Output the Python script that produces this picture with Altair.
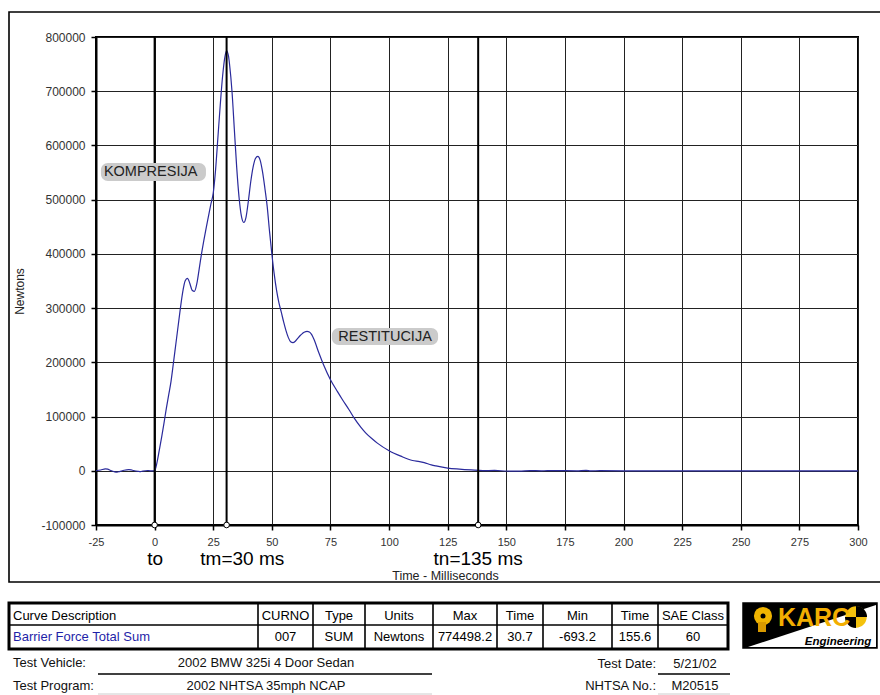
import altair as alt
import pandas as pd

# ---------------- data ----------------
time_ms = [-25, -23, -21, -20, -19, -17, -16, -15, -13, -11, -10, -9, -7, -6, -5, -3, -2, -1, 0,
           1, 2, 3, 4, 5, 6, 7, 8, 9, 10, 11, 12, 13, 14, 15, 16, 17, 18, 19, 20,
           21, 22, 23, 24, 25, 26, 27, 28, 29, 30, 30.7, 31.5, 32, 33, 34, 35, 36, 37, 38, 39, 40,
           41, 42, 43, 44, 45, 46, 47, 48, 49, 50, 51, 52, 53, 54, 55, 56, 57, 58, 59, 60,
           61, 62, 63, 64, 65, 66, 67, 68, 70, 72, 75, 78, 80, 83, 85, 88, 90, 93, 95, 100,
           105, 110, 113, 115, 118, 120, 125, 130, 135, 140, 145, 150, 155.6, 160, 165, 170,
           180, 184, 186, 190, 200, 250, 300]
force_n = [0, 1500, 3500, 3000, 1000, -2000, -2500, -1500, 1000, 2000, 1500, 500, -1000, -1500, -500, 500, 0, -300, 0,
           15000, 38000, 62000, 88000, 115000, 140000, 165000, 198000, 232000, 266000, 300000, 330000, 350000, 355000, 346000, 333000, 331000, 345000, 372000, 400000,
           425000, 448000, 470000, 492000, 512000, 555000, 615000, 675000, 728000, 764000, 774498, 765000, 748000, 700000, 630000, 560000, 505000, 470000, 458000, 468000, 498000,
           533000, 560000, 576000, 580000, 573000, 552000, 522000, 488000, 442000, 400000, 363000, 333000, 310000, 293000, 275000, 259000, 246000, 238000, 236500, 239000,
           244000, 249000, 253000, 256000, 257000, 256000, 251000, 242000, 218000, 196000, 168000, 146000, 132000, 112000, 98000, 80000, 70000, 58000, 51000, 37000,
           27000, 19000, 17000, 15000, 11000, 9000, 5000, 3000, 1500, 300, 600, -400, -693, 300, 0, 200,
           0, 900, 0, 100, 0, 0, 0]

marker_t = [0, 30.7, 138]
marker_labels = ["to", "tm=30 ms", "tn=135 ms"]
marker_label_t = [0.2, 37.4, 138]

phase_labels = ["KOMPRESIJA", "RESTITUCIJA"]
phase_t = [-1.7, 98.3]
phase_f = [551500, 247000]
phase_t1 = [-22.9, 75.6]
phase_t2 = [21.9, 120.9]
phase_f1 = [567600, 263300]
phase_f2 = [534400, 231900]

x_ticks = list(range(-25, 301, 25))
y_ticks = list(range(-100000, 800001, 100000))

table_headers = ["Curve Description", "CURNO", "Type", "Units", "Max", "Time", "Min", "Time", "SAE Class"]
table_values = ["Barrier Force Total Sum", "007", "SUM", "Newtons", "774498.2", "30.7", "-693.2", "155.6", "60"]
info_labels = ["Test Vehicle:", "Test Program:", "Test Date:", "NHTSA No.:"]
info_values = ["2002 BMW 325i 4 Door Sedan", "2002 NHTSA 35mph NCAP", "5/21/02", "M20515"]

# ---------------- layout ----------------
W, H = 762, 488
OX, OY = 96, 37
FONT = "Liberation Sans"

curve = pd.DataFrame({"t": time_ms, "f": force_n})
markers = pd.DataFrame({"t": marker_t, "f": [-100000] * 3})
mlabels = pd.DataFrame({"t": marker_label_t, "label": marker_labels})
phases = pd.DataFrame({"t": phase_t, "f": phase_f, "t1": phase_t1, "t2": phase_t2,
                       "f1": phase_f1, "f2": phase_f2, "label": phase_labels})

xscale = alt.Scale(domain=[-25, 300], nice=False, zero=False)
yscale = alt.Scale(domain=[-100000, 800000], nice=False, zero=False)
xaxis = alt.Axis(values=x_ticks, title="Time - Milliseconds", grid=True, gridColor="#222",
                 gridWidth=1, gridOpacity=1, domainColor="black", domainWidth=2,
                 tickColor="black", tickWidth=1.5, tickSize=5, labelPadding=6,
                 labelFont=FONT, labelFontSize=11, labelColor="#333",
                 labelExpr="'' + datum.value", titleFont=FONT, titleFontSize=12.5,
                 titleFontWeight="normal", titleColor="#222", titleX=349, titleY=54,
                 titleAlign="center", titleBaseline="alphabetic", labelFlush=False,
                 labelOverlap=False)
yaxis = alt.Axis(values=y_ticks, title="Newtons", grid=True, gridColor="#222",
                 gridWidth=1, gridOpacity=1, domainColor="black", domainWidth=2,
                 tickColor="black", tickWidth=1.5, tickSize=5, labelPadding=6,
                 labelFont=FONT, labelFontSize=12, labelColor="#333",
                 labelExpr="'' + datum.value", titleFont=FONT, titleFontSize=12,
                 titleFontWeight="normal", titleColor="#222", titleX=-77, titleY=254,
                 titleAngle=270, titleAlign="center", titleBaseline="middle",
                 labelFlush=False, labelOverlap=False)

X = alt.X("t:Q", scale=xscale, axis=xaxis)
Y = alt.Y("f:Q", scale=yscale, axis=yaxis)

line = alt.Chart(curve).mark_line(color="#2a2a9c", strokeWidth=1.2, interpolate="monotone").encode(x=X, y=Y)

vlines = alt.Chart(markers).mark_rule(color="black", strokeWidth=2).encode(
    x=X, y=alt.value(0), y2=alt.value(H))
vpoints = alt.Chart(markers).mark_point(shape="circle", filled=True, fill="white",
                                        stroke="black", strokeWidth=1, size=32, opacity=1).encode(x=X, y=Y)

mtext = alt.Chart(mlabels).mark_text(font=FONT, fontSize=19, color="black", align="center",
                                     baseline="alphabetic").encode(
    x=X, y=alt.value(528), text="label:N")

pboxes = alt.Chart(phases).mark_rect(color="#cbcbcb", cornerRadius=7).encode(
    x=alt.X("t1:Q", scale=xscale, axis=xaxis), x2="t2:Q",
    y=alt.Y("f1:Q", scale=yscale, axis=yaxis), y2="f2:Q")
ptext = alt.Chart(phases).mark_text(font=FONT, fontSize=14.5, color="#222", align="center",
                                    baseline="middle").encode(x=X, y=Y, text="label:N")

# ---------------- decorations (pixel positions) ----------------
def R(px):
    return px - OX

def C(py):
    return py - OY

PX = lambda f: alt.X(f, scale=None, axis=None)
PY = lambda f: alt.Y(f, scale=None, axis=None)

frame = pd.DataFrame({"x1": [R(9)], "x2": [R(890)], "y1": [C(12)], "y2": [C(582)]})
frame_l = alt.Chart(frame).mark_rect(fill=None, stroke="black", strokeWidth=1.6).encode(
    x=PX("x1:Q"), x2="x2:Q", y=PY("y1:Q"), y2="y2:Q")

cols = [9, 258, 313, 365, 433, 497, 543, 612, 658, 728]
t_top, t_mid, t_bot = 603, 625, 649
outer = pd.DataFrame({"x1": [R(cols[0])], "x2": [R(cols[-1])], "y1": [C(t_top)], "y2": [C(t_bot)]})
outer_l = alt.Chart(outer).mark_rect(fill="white", stroke="black", strokeWidth=3).encode(
    x=PX("x1:Q"), x2="x2:Q", y=PY("y1:Q"), y2="y2:Q")

seg_rows = [(cols[0], t_mid, cols[-1], t_mid, "black", 1.6)]
for cx in cols[1:-1]:
    seg_rows.append((cx, t_top, cx, t_bot, "black", 1.6))
seg_rows += [(98, 674, 432, 674, "black", 1.6), (658, 674, 730, 674, "black", 1.6),
             (98, 694, 432, 694, "#cccccc", 1), (658, 694, 730, 694, "#cccccc", 1)]
segs = pd.DataFrame([{"x1": R(a), "y1": C(b), "x2": R(c), "y2": C(d), "col": e, "w": w}
                     for a, b, c, d, e, w in seg_rows])
segs_l = alt.Chart(segs).mark_rule().encode(
    x=PX("x1:Q"), x2="x2:Q", y=PY("y1:Q"), y2="y2:Q",
    color=alt.Color("col:N", scale=None), strokeWidth=alt.StrokeWidth("w:Q", scale=None))

centers = [(cols[i] + cols[i + 1]) / 2 for i in range(len(cols) - 1)]
txt_rows = []
txt_rows.append((13, 616, table_headers[0], "left", "black"))
txt_rows.append((13, 637, table_values[0], "left", "#1f1fa8"))
for i in range(1, len(table_headers)):
    txt_rows.append((centers[i], 616, table_headers[i], "center", "black"))
    txt_rows.append((centers[i], 637, table_values[i], "center", "black"))
txt_rows += [(13, 663, info_labels[0], "left", "#111"), (266, 663, info_values[0], "center", "#111"),
             (13, 686, info_labels[1], "left", "#111"), (266, 686, info_values[1], "center", "#111"),
             (656, 664, info_labels[2], "right", "#111"), (695, 664, info_values[2], "center", "#111"),
             (656, 686, info_labels[3], "right", "#111"), (695, 686, info_values[3], "center", "#111")]
txt = pd.DataFrame([{"x": R(a), "y": C(b), "text": c, "al": d, "col": e} for a, b, c, d, e in txt_rows])

def text_layer(al):
    return alt.Chart(txt[txt.al == al]).mark_text(font=FONT, fontSize=13, align=al,
                                                  baseline="middle").encode(
        x=PX("x:Q"), y=PY("y:Q"), text="text:N", color=alt.Color("col:N", scale=None))

# logo
logo_box = pd.DataFrame({"x1": [R(743)], "x2": [R(877)], "y1": [C(603)], "y2": [C(648)]})
logo_l = alt.Chart(logo_box).mark_rect(fill="black", stroke="black", strokeWidth=1.5).encode(
    x=PX("x1:Q"), x2="x2:Q", y=PY("y1:Q"), y2="y2:Q")
tri = pd.DataFrame({"x": [R(748), R(876)], "y": [C(647), C(605)], "y2": [C(647), C(647)]})
tri_l = alt.Chart(tri).mark_area(color="white", interpolate="linear").encode(
    x=PX("x:Q"), y=PY("y:Q"), y2="y2:Q")
one = pd.DataFrame({"x": [R(856)], "y": [C(617)]})
tgt = alt.Chart(one).mark_point(shape="circle", filled=True, color="#f4c20d", size=460, opacity=1).encode(
    x=PX("x:Q"), y=PY("y:Q"))
q1 = alt.Chart(one).mark_arc(color="black", radius=11).encode(
    x=PX("x:Q"), y=PY("y:Q"), theta=alt.value(0), theta2=alt.value(1.5708))
q2 = alt.Chart(one).mark_arc(color="black", radius=11).encode(
    x=PX("x:Q"), y=PY("y:Q"), theta=alt.value(3.1416), theta2=alt.value(4.7124))
key_df = pd.DataFrame({"x": [R(763)], "y": [C(616)]})
key = alt.Chart(key_df).mark_point(shape="circle", filled=True, color="#f0b400", size=330, opacity=1).encode(
    x=PX("x:Q"), y=PY("y:Q"))
key_hole = alt.Chart(key_df).mark_point(shape="circle", filled=True, color="black", size=25, opacity=1).encode(
    x=PX("x:Q"), y=PY("y:Q"))
stem = pd.DataFrame({"x1": [R(758)], "x2": [R(766)], "y1": [C(622)], "y2": [C(632)]})
stem_l = alt.Chart(stem).mark_rect(fill="#d99a00").encode(
    x=PX("x1:Q"), x2="x2:Q", y=PY("y1:Q"), y2="y2:Q")
logo_txt = pd.DataFrame({"x": [R(814), R(838)], "y": [C(626), C(645)],
                         "text": ["KARC", "Engineering"]})
karc = alt.Chart(logo_txt.iloc[[0]]).mark_text(font=FONT, fontSize=25, fontWeight="bold",
                                               color="#f2ae00", align="center", baseline="alphabetic").encode(
    x=PX("x:Q"), y=PY("y:Q"), text="text:N")
eng = alt.Chart(logo_txt.iloc[[1]]).mark_text(font=FONT, fontSize=11.5, fontWeight="bold",
                                              fontStyle="italic", color="black", align="center",
                                              baseline="alphabetic").encode(
    x=PX("x:Q"), y=PY("y:Q"), text="text:N")

chart = alt.layer(
    line, vlines, vpoints, pboxes, ptext, mtext,
    frame_l, outer_l, segs_l, text_layer("left"), text_layer("center"), text_layer("right"),
    logo_l, tri_l, tgt, q1, q2, key, key_hole, stem_l, karc, eng
).properties(
    width=W, height=H, autosize="none",
    padding={"left": OX, "top": OY, "right": 880 - OX - W, "bottom": 695 - OY - H},
    background="white"
).configure_view(stroke="black", strokeWidth=2)

chart.save("out.html", embed_options={"renderer": "svg", "actions": False})
